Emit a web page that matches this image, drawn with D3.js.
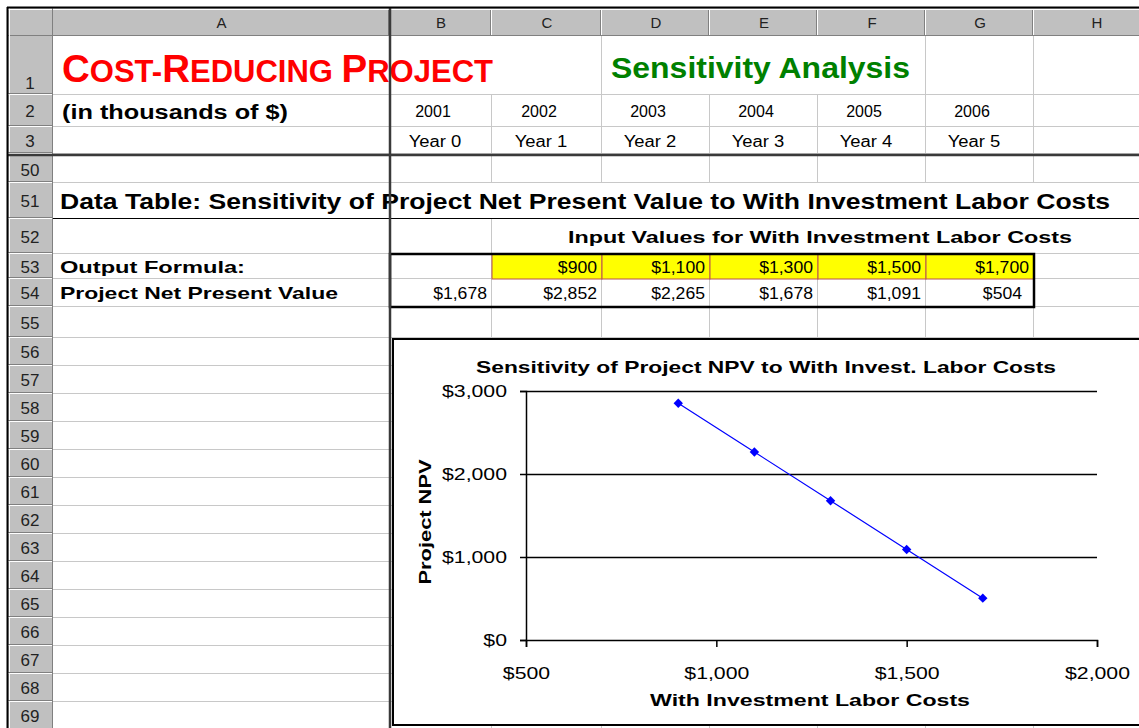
<!DOCTYPE html>
<html>
<head>
<meta charset="utf-8">
<script src="https://cdn.jsdelivr.net/npm/d3@7"></script>
<style>
    body { margin: 0; background: #fff; }
    svg text { font-family: "Liberation Sans", Arial, sans-serif; }
</style>
</head>
<body>
<svg id="sheet" width="1139" height="728"></svg>
<script>
// sheet content
const columnLetters = ["A", "B", "C", "D", "E", "F", "G", "H"];
const rowNumbers = [1, 2, 3, 50, 51, 52, 53, 54, 55, 56, 57, 58, 59, 60, 61, 62, 63, 64, 65, 66, 67, 68, 69];
const years = [2001, 2002, 2003, 2004, 2005, 2006];
const yearLabels = ["Year 0", "Year 1", "Year 2", "Year 3", "Year 4", "Year 5"];
const laborCosts = [900, 1100, 1300, 1500, 1700];
const npvValues = [2852, 2265, 1678, 1091, 504];
const baseCaseNpv = 1678;
const npvTicks = [0, 1000, 2000, 3000];
const costTicks = [500, 1000, 1500, 2000];

const W = 1139, H = 728;
const svg = d3.select("#sheet");
const money = d3.format("$,.0f");

// layout of the grid
const colEdges = [53, 390, 492, 602, 710, 818, 926, 1034, 1160];
const rowHeights = [59, 32, 27, 27, 36, 35, 25, 28, 31, 28, 28, 28, 28, 28, 28, 28, 28, 28, 28, 28, 28, 28, 28];
const rowTop = {}, rowBottom = {};
let yPos = 36;
rowNumbers.forEach((n, i) => {
    if (n === 50) yPos += 2; // frozen pane split
    rowTop[n] = yPos;
    yPos += rowHeights[i];
    rowBottom[n] = yPos;
});
const col = letter => {
    const i = columnLetters.indexOf(letter);
    return {x0: colEdges[i], x1: colEdges[i + 1], cx: (colEdges[i] + colEdges[i + 1]) / 2};
};
const mid = n => (rowTop[n] + rowBottom[n]) / 2;

// old excel fonts render wider than the same size here
function widen(sel, k) {
    sel.each(function () {
        const w = this.getComputedTextLength();
        d3.select(this).attr("textLength", w * k).attr("lengthAdjust", "spacingAndGlyphs");
    });
}

svg.append("rect").attr("width", W).attr("height", H).attr("fill", "#fff");

// cell gridlines
const grid = svg.append("g").attr("stroke", "#c8c8c8").attr("stroke-width", 1);
rowNumbers.forEach(n => {
    grid.append("line")
        .attr("x1", 53).attr("x2", W)
        .attr("y1", rowBottom[n] - 0.5).attr("y2", rowBottom[n] - 0.5);
    colEdges.slice(2).forEach(x => {
        if (n === 51) return;
        if (n === 1 && [492, 710, 818].includes(x)) return;
        if (n === 52 && x > 492) return;
        grid.append("line")
            .attr("x1", x - 0.5).attr("x2", x - 0.5)
            .attr("y1", rowTop[n]).attr("y2", rowBottom[n]);
    });
});

// yellow input cells
const inputCols = ["C", "D", "E", "F", "G"];
svg.append("g").selectAll("rect").data(laborCosts).join("rect")
    .attr("x", (d, i) => col(inputCols[i]).x0)
    .attr("y", rowTop[53])
    .attr("width", (d, i) => col(inputCols[i]).x1 - col(inputCols[i]).x0)
    .attr("height", rowBottom[53] - rowTop[53])
    .attr("fill", "#ffff00")
    .attr("stroke", "#b85050")
    .attr("stroke-width", 1);

// column and row headers
const header = svg.append("g");
header.append("rect").attr("x", 8).attr("y", 8).attr("width", W - 8).attr("height", 28).attr("fill", "#c0c0c0");
header.append("rect").attr("x", 8).attr("y", 8).attr("width", 45).attr("height", H - 8).attr("fill", "#c0c0c0");
colEdges.slice(1).forEach(x => {
    header.append("line").attr("x1", x - 1.5).attr("x2", x - 1.5).attr("y1", 9).attr("y2", 35).attr("stroke", "#808080");
    header.append("line").attr("x1", x - 0.5).attr("x2", x - 0.5).attr("y1", 9).attr("y2", 35).attr("stroke", "#fff");
});
header.append("line").attr("x1", 8).attr("x2", W).attr("y1", 35.5).attr("y2", 35.5).attr("stroke", "#808080");
header.append("line").attr("x1", 8).attr("x2", W).attr("y1", 9.5).attr("y2", 9.5).attr("stroke", "#fff");
header.append("line").attr("x1", 52.5).attr("x2", 52.5).attr("y1", 8).attr("y2", H).attr("stroke", "#808080");
header.append("line").attr("x1", 9.5).attr("x2", 9.5).attr("y1", 8).attr("y2", H).attr("stroke", "#fff");
rowNumbers.forEach(n => {
    header.append("line").attr("x1", 8).attr("x2", 52).attr("y1", rowBottom[n] - 1.5).attr("y2", rowBottom[n] - 1.5).attr("stroke", "#808080");
    header.append("line").attr("x1", 8).attr("x2", 52).attr("y1", rowBottom[n] - 0.5).attr("y2", rowBottom[n] - 0.5).attr("stroke", "#fff");
});
header.selectAll("text.col").data(columnLetters).join("text")
    .attr("class", "col")
    .attr("x", d => col(d).cx)
    .attr("y", 28)
    .attr("text-anchor", "middle")
    .attr("font-size", 15)
    .attr("fill", "#222")
    .text(d => d);
header.selectAll("text.row").data(rowNumbers).join("text")
    .attr("class", "row")
    .attr("x", 30)
    .attr("y", d => d === 1 ? rowBottom[d] - 6 : mid(d) + 6)
    .attr("text-anchor", "middle")
    .attr("font-size", 17)
    .attr("fill", "#222")
    .text(d => d);

// cell text
const cells = svg.append("g");
const title = cells.append("text")
    .attr("x", 62).attr("y", 82)
    .attr("fill", "#ff0000")
    .attr("font-weight", "bold");
[["C", 38.5], ["OST-", 31], ["R", 38.5], ["EDUCING ", 31], ["P", 38.5], ["ROJECT", 31]].forEach(([t, s]) => {
    title.append("tspan").attr("font-size", s).text(t);
});
cells.append("text")
    .attr("x", 611).attr("y", 78)
    .attr("fill", "#008000")
    .attr("font-weight", "bold")
    .attr("font-size", 29)
    .attr("textLength", 299)
    .attr("lengthAdjust", "spacingAndGlyphs")
    .text("Sensitivity Analysis");
cells.append("text")
    .attr("x", 62).attr("y", 119)
    .attr("font-weight", "bold").attr("font-size", 20)
    .attr("textLength", 226).attr("lengthAdjust", "spacingAndGlyphs")
    .text("(in thousands of $)");

const yearCols = ["B", "C", "D", "E", "F", "G"];
cells.selectAll("text.year").data(years).join("text")
    .attr("class", "year")
    .attr("x", (d, i) => col(yearCols[i]).cx - 8)
    .attr("y", mid(2) + 6)
    .attr("text-anchor", "middle")
    .attr("font-size", 16)
    .text(d => d);
cells.selectAll("text.ylab").data(yearLabels).join("text")
    .attr("class", "ylab")
    .attr("x", (d, i) => col(yearCols[i]).cx - 6)
    .attr("y", mid(3) + 6)
    .attr("text-anchor", "middle")
    .attr("font-size", 16)
    .text(d => d)
    .call(widen, 1.15);

cells.append("text")
    .attr("x", 60).attr("y", mid(51) + 8)
    .attr("font-weight", "bold").attr("font-size", 22)
    .attr("textLength", 1050).attr("lengthAdjust", "spacingAndGlyphs")
    .text("Data Table: Sensitivity of Project Net Present Value to With Investment Labor Costs");
cells.append("text")
    .attr("x", 820).attr("y", mid(52) + 6)
    .attr("text-anchor", "middle")
    .attr("font-weight", "bold").attr("font-size", 17)
    .attr("textLength", 504).attr("lengthAdjust", "spacingAndGlyphs")
    .text("Input Values for With Investment Labor Costs");
cells.append("text")
    .attr("x", 60).attr("y", mid(53) + 6)
    .attr("font-weight", "bold").attr("font-size", 17)
    .attr("textLength", 185).attr("lengthAdjust", "spacingAndGlyphs")
    .text("Output Formula:");
cells.append("text")
    .attr("x", 60).attr("y", mid(54) + 6)
    .attr("font-weight", "bold").attr("font-size", 17)
    .attr("textLength", 278).attr("lengthAdjust", "spacingAndGlyphs")
    .text("Project Net Present Value");

cells.selectAll("text.input").data(laborCosts).join("text")
    .attr("class", "input")
    .attr("x", (d, i) => col(inputCols[i]).x1 - 5)
    .attr("y", mid(53) + 6)
    .attr("text-anchor", "end")
    .attr("font-size", 16)
    .text(d => money(d))
    .call(widen, 1.1);
cells.append("text")
    .attr("x", col("B").x1 - 5)
    .attr("y", mid(54) + 6)
    .attr("text-anchor", "end")
    .attr("font-size", 16)
    .text(money(baseCaseNpv))
    .call(widen, 1.1);
cells.selectAll("text.npv").data(npvValues).join("text")
    .attr("class", "npv")
    .attr("x", (d, i) => col(inputCols[i]).x1 - (d < 1000 ? 12 : 5))
    .attr("y", mid(54) + 6)
    .attr("text-anchor", "end")
    .attr("font-size", 16)
    .text(d => money(d))
    .call(widen, 1.1);

// borders
svg.append("line")
    .attr("x1", 53).attr("x2", W)
    .attr("y1", rowBottom[51] - 0.5).attr("y2", rowBottom[51] - 0.5)
    .attr("stroke", "#000");
svg.append("rect")
    .attr("x", 390).attr("y", rowTop[53])
    .attr("width", 1034 - 390).attr("height", rowBottom[54] - rowTop[53])
    .attr("fill", "none").attr("stroke", "#000").attr("stroke-width", 2.5);

// frozen pane lines
svg.append("line").attr("x1", 390).attr("x2", 390).attr("y1", 8).attr("y2", H)
    .attr("stroke", "#3a3a3a").attr("stroke-width", 2.5);
svg.append("line").attr("x1", 8).attr("x2", W).attr("y1", 155).attr("y2", 155)
    .attr("stroke", "#3a3a3a").attr("stroke-width", 2.5);

// outer frame
svg.append("line").attr("x1", 7).attr("x2", W).attr("y1", 7.5).attr("y2", 7.5).attr("stroke", "#000").attr("stroke-width", 2);
svg.append("line").attr("x1", 7.5).attr("x2", 7.5).attr("y1", 7).attr("y2", H).attr("stroke", "#000").attr("stroke-width", 2);

// embedded chart
const chart = svg.append("g");
chart.append("rect")
    .attr("x", 393).attr("y", 339)
    .attr("width", 780).attr("height", 386)
    .attr("fill", "#fff").attr("stroke", "#000").attr("stroke-width", 2);

const x = d3.scaleLinear().domain([500, 2000]).range([526, 1097]);
const y = d3.scaleLinear().domain([0, 3000]).range([640, 391]);

chart.append("g")
    .attr("transform", "translate(" + x.range()[0] + ",0)")
    .call(d3.axisLeft(y).tickValues(npvTicks.slice(1)).tickSize(-(x.range()[1] - x.range()[0])).tickFormat(""))
    .call(g => g.select(".domain").remove())
    .call(g => g.selectAll("line").attr("stroke", "#000").attr("stroke-width", 1.5));

chart.append("g")
    .attr("transform", "translate(" + x.range()[0] + ",0)")
    .call(d3.axisLeft(y).tickValues(npvTicks).tickSize(6).tickPadding(13).tickFormat(d3.format("$,")))
    .call(g => g.select(".domain").attr("stroke", "#000").attr("stroke-width", 1.5))
    .call(g => g.selectAll("line").attr("stroke", "#000").attr("stroke-width", 1.5))
    .call(g => g.selectAll("text").attr("font-size", 17).attr("fill", "#000").call(widen, 1.25));

chart.append("g")
    .attr("transform", "translate(0," + y.range()[0] + ")")
    .call(d3.axisBottom(x).tickValues(costTicks).tickSize(7).tickPadding(20).tickFormat(d3.format("$,")))
    .call(g => g.select(".domain").attr("stroke", "#000").attr("stroke-width", 1.5))
    .call(g => g.selectAll("line").attr("stroke", "#000").attr("stroke-width", 1.5))
    .call(g => g.selectAll("text").attr("font-size", 17).attr("fill", "#000").call(widen, 1.25));

chart.append("path")
    .datum(laborCosts)
    .attr("fill", "none")
    .attr("stroke", "#0000ff")
    .attr("stroke-width", 1.2)
    .attr("d", d3.line().x(d => x(d)).y((d, i) => y(npvValues[i])));

chart.selectAll("path.marker").data(laborCosts).join("path")
    .attr("class", "marker")
    .attr("transform", (d, i) => "translate(" + x(d) + "," + y(npvValues[i]) + ") rotate(45)")
    .attr("d", d3.symbol(d3.symbolSquare, 44))
    .attr("fill", "#0000ff");

chart.append("text")
    .attr("x", 766).attr("y", 373)
    .attr("text-anchor", "middle")
    .attr("font-weight", "bold").attr("font-size", 17)
    .attr("textLength", 580).attr("lengthAdjust", "spacingAndGlyphs")
    .text("Sensitivity of Project NPV to With Invest. Labor Costs");
chart.append("text")
    .attr("x", 810).attr("y", 706)
    .attr("text-anchor", "middle")
    .attr("font-weight", "bold").attr("font-size", 17)
    .attr("textLength", 320).attr("lengthAdjust", "spacingAndGlyphs")
    .text("With Investment Labor Costs");
chart.append("text")
    .attr("transform", "translate(431,522) rotate(-90)")
    .attr("text-anchor", "middle")
    .attr("font-weight", "bold").attr("font-size", 17)
    .attr("textLength", 125).attr("lengthAdjust", "spacingAndGlyphs")
    .text("Project NPV");
</script>
</body>
</html>
